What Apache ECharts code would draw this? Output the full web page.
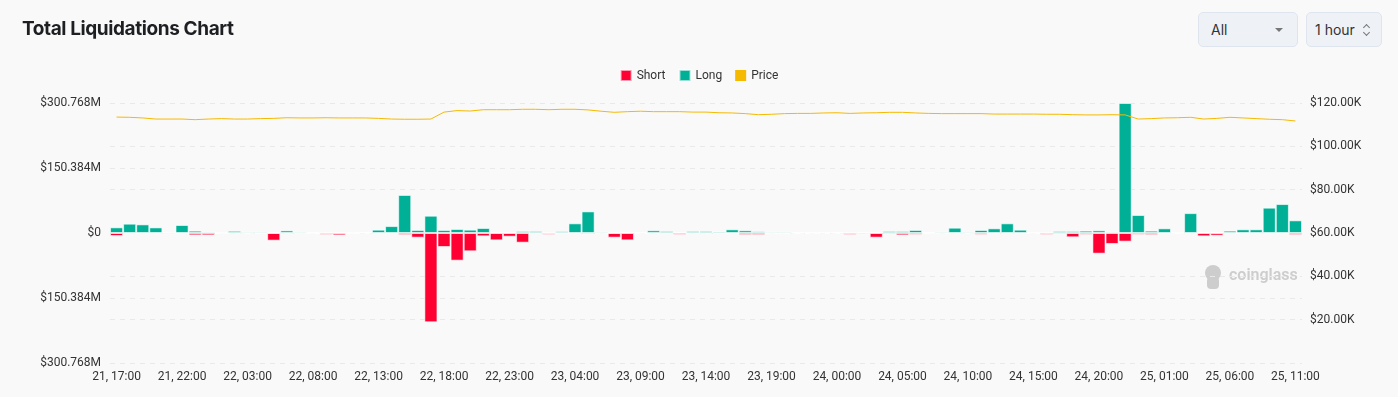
<!DOCTYPE html>
<html>
<head>
<meta charset="utf-8">
<title>Total Liquidations Chart</title>
<script src="https://cdn.jsdelivr.net/npm/echarts@6/dist/echarts.min.js"></script>
<style>
    html, body {
        margin: 0;
        padding: 0;
        background: #f9f9f9;
    }
    .page {
        position: relative;
        width: 1398px;
        height: 397px;
        overflow: hidden;
    }
    .title {
        position: absolute;
        left: 22px;
        top: 17px;
        font-family: Inter, "Noto Sans", sans-serif;
        font-weight: 700;
        font-size: 19px;
        letter-spacing: -0.4px;
        color: #1d1f23;
        z-index: 2;
    }
    .select {
        position: absolute;
        top: 12px;
        height: 35px;
        box-sizing: border-box;
        border: 1px solid #dfe5ee;
        border-radius: 5px;
        background: #eef2f7;
        font-family: Inter, "Noto Sans", sans-serif;
        font-size: 14px;
        color: #333;
        line-height: 33px;
        padding-left: 12px;
        z-index: 2;
    }
    .select .arrow {
        position: absolute;
        right: 14px;
        top: 15px;
        width: 0;
        height: 0;
        border-left: 4px solid transparent;
        border-right: 4px solid transparent;
        border-top: 4px solid #777;
    }
    .select .chev {
        position: absolute;
        right: 12px;
        width: 4px;
        height: 4px;
        border-left: 1px solid #777;
        border-top: 1px solid #777;
    }
    .select .chev.up {
        top: 12px;
        transform: rotate(45deg);
    }
    .select .chev.down {
        top: 17px;
        transform: rotate(225deg);
    }
    #chart {
        position: absolute;
        left: 0;
        top: 0;
        width: 1398px;
        height: 397px;
    }
</style>
</head>
<body>
<div class="page">
    <div class="title">Total Liquidations Chart</div>
    <div class="select" style="left: 1198px; width: 100px;">All<span class="arrow"></span></div>
    <div class="select" style="left: 1306px; width: 76px; padding-left: 8px;">1 hour<span class="chev up"></span><span class="chev down"></span></div>
    <div id="chart"></div>
</div>

<script>
// 时间轴：21日17:00 到 25日11:00，每小时一根
const startDay = 21;
const startHour = 17;
const hourCount = 91;

// 多单爆仓（百万美元）
const longValues = [
    13.1, 21.6, 20, 13, 0.3, 18.5, 5.4, 3, 0.5, 5,
    3, 3, 0.5, 6, 3, 1, 1, 1, 0.5, 2.3,
    7.7, 16, 88, 7, 40, 7, 9.3, 7.7, 11.6, 1,
    1, 4.6, 4.6, 0.5, 4, 22.4, 50, 3, 0.5, 1.5,
    2, 6.2, 4.6, 2, 4.6, 4.6, 3.5, 8.5, 6.2, 3.9,
    3, 3, 2, 1.5, 1.5, 2, 1, 1.5, 1.5, 4.6,
    4.6, 7, 1, 3, 12.3, 3, 7, 10.8, 22.4, 7.7,
    1, 1, 4.6, 4.6, 5.4, 6.2, 3, 300.768, 41.6, 5.4,
    10.8, 0.5, 46, 2, 1.5, 5.4, 8.5, 8.5, 58.6, 67,
    29.3
];

// 空单爆仓（百万美元，画在零线下方）
const shortValues = [
    7, 0.5, 1, 1, 3, 1, 5.4, 5.4, 1.5, 0.5,
    1.5, 2, 17.7, 0.5, 2.5, 1.5, 3.9, 5.4, 1.5, 0.5,
    1, 1, 4.6, 10.8, 206.6, 32.4, 64, 42.4, 7.7, 17,
    8.5, 22.4, 1, 3.9, 2, 1, 3, 1, 10.8, 17,
    1.5, 1, 1.5, 3.9, 1, 1, 2.3, 1.5, 4.6, 4.6,
    1.5, 2, 1.5, 1.5, 1, 1, 4, 3, 10.8, 3,
    5.4, 3.9, 1.5, 1, 0.5, 1, 3.9, 1.5, 1, 2.3,
    1, 3.9, 3, 10, 3.9, 47.8, 25.4, 20, 3.9, 4.6,
    1.5, 1.5, 1, 7.7, 6.2, 1, 1, 1, 1, 1,
    4.6
];

// BTC 价格（千美元）
const priceValues = [
    113.5, 113.4, 113.1, 112.6, 112.6, 112.6, 112.3, 112.6, 112.8, 112.6,
    112.6, 112.8, 112.9, 113.2, 113.1, 113.1, 113.2, 113.1, 113.1, 113.1,
    112.9, 112.6, 112.5, 112.5, 112.6, 115.8, 116.5, 116.3, 116.9, 116.9,
    116.9, 117.1, 117.1, 116.9, 117.1, 117.1, 116.8, 116.2, 115.7, 116.0,
    116.2, 116.0, 116.0, 116.0, 115.8, 115.8, 115.5, 115.4, 115.1, 114.6,
    114.8, 115.1, 115.2, 115.2, 115.4, 115.5, 115.2, 115.4, 115.5, 115.7,
    115.7, 115.4, 115.2, 115.1, 115.1, 115.1, 115.1, 114.9, 114.9, 114.9,
    114.9, 114.8, 114.8, 114.6, 114.5, 114.5, 114.6, 114.5, 112.6, 112.8,
    113.1, 113.2, 113.4, 112.6, 112.9, 113.4, 113.1, 112.8, 112.5, 112.3,
    111.7
];

// 坐标轴刻度
const leftAxisMax = 300.768;
const leftAxisStep = 150.384;
const rightAxisMax = 120;
const rightAxisStep = 20;

const categories = [];
for (let i = 0; i < hourCount; i++) {
    const total = startHour + i;
    const day = startDay + Math.floor(total / 24);
    const hour = total % 24;
    categories.push(day + ', ' + String(hour).padStart(2, '0') + ':00');
}

const labelFont = {
    color: '#333',
    fontSize: 12,
    fontFamily: 'Roboto, sans-serif'
};

const chart = echarts.init(document.getElementById('chart'));

const option = {
    backgroundColor: 'transparent',
    animation: false,
    legend: {
        top: 64,
        left: 'center',
        itemWidth: 11,
        itemHeight: 11,
        itemGap: 13,
        icon: 'rect',
        textStyle: { color: '#333', fontSize: 12, fontFamily: 'Roboto, sans-serif' },
        data: ['Short', 'Long', 'Price']
    },
    grid: {
        left: 110,
        right: 96,
        top: 103,
        bottom: 34
    },
    xAxis: {
        type: 'category',
        data: categories,
        boundaryGap: true,
        axisLine: { show: false },
        axisTick: { show: false },
        axisLabel: Object.assign({ interval: 4, margin: 8 }, labelFont),
        splitLine: { show: false }
    },
    yAxis: [
        {
            type: 'value',
            min: -leftAxisMax,
            max: leftAxisMax,
            interval: leftAxisStep,
            axisLine: { show: false },
            axisTick: { show: false },
            axisLabel: Object.assign({
                margin: 9,
                formatter: v => Math.abs(v) < 1e-6 ? '$0' : '$' + Math.abs(v).toFixed(3) + 'M'
            }, labelFont),
            splitLine: { lineStyle: { color: '#e9e9e9', type: [5, 5] } }
        },
        {
            type: 'value',
            min: 0,
            max: rightAxisMax,
            interval: rightAxisStep,
            axisLine: { show: false },
            axisTick: { show: false },
            axisLabel: Object.assign({
                margin: 8,
                formatter: v => v === 0 ? '' : '$' + v.toFixed(2) + 'K'
            }, labelFont),
            splitLine: { lineStyle: { color: '#e9e9e9', type: [5, 5] } }
        }
    ],
    graphic: [
        {
            type: 'text',
            left: 1229,
            top: 268,
            z: 0,
            style: {
                text: 'coinglass',
                fill: '#cdcdcd',
                font: '600 16px Roboto, sans-serif'
            }
        },
        {
            type: 'circle',
            shape: { cx: 1213, cy: 273, r: 8 },
            z: 0,
            style: { fill: '#cdcdcd' }
        },
        {
            type: 'rect',
            shape: { x: 1207, y: 277, width: 12, height: 12, r: 4 },
            z: 0,
            style: { fill: '#cdcdcd' }
        }
    ],
    series: [
        {
            name: 'Short',
            type: 'bar',
            stack: 'liq',
            barCategoryGap: '0%',
            itemStyle: {
                color: '#ff0033',
                borderColor: 'rgba(255,255,255,0.6)',
                borderWidth: 1
            },
            data: shortValues.map(v => -v)
        },
        {
            name: 'Long',
            type: 'bar',
            stack: 'liq',
            barCategoryGap: '0%',
            itemStyle: {
                color: '#00b096',
                borderColor: 'rgba(255,255,255,0.6)',
                borderWidth: 1
            },
            data: longValues
        },
        {
            name: 'Price',
            type: 'line',
            yAxisIndex: 1,
            showSymbol: false,
            symbol: 'none',
            itemStyle: { color: '#f5b900' },
            lineStyle: { color: '#f5b900', width: 1 },
            data: priceValues
        }
    ]
};

chart.setOption(option);
</script>
</body>
</html>
